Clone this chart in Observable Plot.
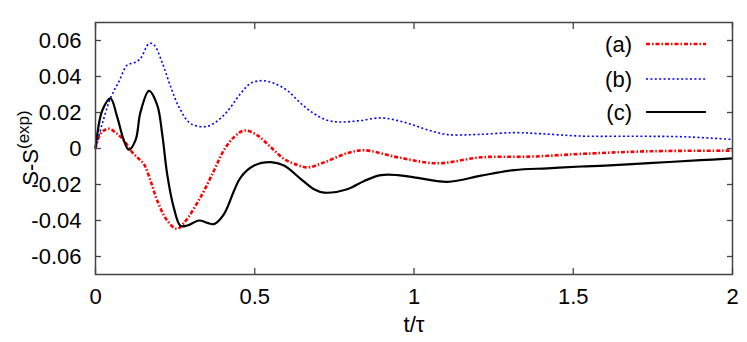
<!DOCTYPE html>
<html><head><meta charset="utf-8">
<script src="https://cdn.jsdelivr.net/npm/d3@7"></script>
<script src="https://cdn.jsdelivr.net/npm/@observablehq/plot@0.6"></script>
<style>body{margin:0;background:#fff}#wrap{width:747px;height:342px}</style>
</head><body><div id="wrap"></div>
<script>
const tA = [0,0.012,0.025,0.042,0.068,0.089,0.115,0.136,0.152,0.173,0.194,0.225,0.255,0.278,0.33,0.372,0.403,0.435,0.467,0.508,0.55,0.592,0.634,0.666,0.718,0.79,0.844,0.949,1.074,1.21,1.368,1.525,1.75,2.0];
const vA = [0,0.007,0.0098,0.011,0.0082,0.0045,-0.002,-0.0058,-0.0086,-0.018,-0.029,-0.040,-0.0446,-0.0413,-0.027,-0.0123,-0.001,0.0063,0.010,0.0073,0.0008,-0.0058,-0.0092,-0.0105,-0.0077,-0.0026,-0.001,-0.0049,-0.0082,-0.0049,-0.0045,-0.003,-0.0015,-0.0012];
const tB = [0,0.02,0.047,0.073,0.1,0.12,0.141,0.168,0.183,0.21,0.236,0.265,0.299,0.351,0.403,0.456,0.487,0.524,0.561,0.603,0.645,0.686,0.728,0.77,0.83,0.896,0.95,1.0,1.05,1.106,1.2,1.315,1.4,1.525,1.7,1.85,2.0];
const vB = [0,0.013,0.028,0.037,0.0465,0.0475,0.050,0.0583,0.0577,0.0475,0.0343,0.022,0.0138,0.0123,0.0185,0.0306,0.0362,0.0377,0.0362,0.0321,0.025,0.0194,0.0157,0.0147,0.0155,0.017,0.0155,0.0129,0.010,0.0077,0.0078,0.0088,0.0082,0.0069,0.0068,0.0065,0.005];
const tC = [0,0.005,0.021,0.047,0.068,0.089,0.105,0.126,0.141,0.168,0.194,0.21,0.225,0.246,0.267,0.288,0.325,0.351,0.372,0.403,0.435,0.456,0.498,0.55,0.592,0.645,0.686,0.718,0.79,0.844,0.896,0.949,1.0,1.106,1.21,1.315,1.42,1.525,1.6,1.75,1.9,2.0];
const vC = [0,0.0073,0.021,0.0278,0.0176,0.0045,-0.0007,0.0048,0.020,0.032,0.024,0.0073,-0.0142,-0.033,-0.043,-0.0428,-0.040,-0.0413,-0.042,-0.0366,-0.0235,-0.016,-0.0095,-0.0076,-0.0095,-0.017,-0.0226,-0.0245,-0.0226,-0.018,-0.0148,-0.0148,-0.016,-0.0185,-0.0151,-0.012,-0.011,-0.010,-0.0095,-0.008,-0.0065,-0.0055];
const xTicks = [0,0.5,1,1.5,2];
const yTicks = [-0.06,-0.04,-0.02,0,0.02,0.04,0.06];
const yTickLabels = ["-0.06","-0.04","-0.02","0","0.02","0.04","0.06"];
const seriesNames = ["(a)","(b)","(c)"];

const styles = [
  {stroke:"#ff0000", strokeWidth:2.6, strokeDasharray:"4,2,1.5,2"},
  {stroke:"#0000ff", strokeWidth:1.6, strokeDasharray:"2,2.4"},
  {stroke:"#000000", strokeWidth:2.2, strokeDasharray:null}
];
const series = [[tA,vA],[tB,vB],[tC,vC]].map(([t,v]) => t.map((x,i)=>({t:x, v:v[i]})));
const FONT = "'Liberation Sans', Arial, sans-serif";

const chart = Plot.plot({
  width:747, height:342,
  marginLeft:95, marginRight:15, marginTop:22, marginBottom:68,
  style:{fontFamily:FONT, fontSize:"22px", background:"#fff", color:"#000"},
  x:{domain:[0,2]},
  y:{domain:[-0.07,0.07]},
  marks:[
    ...series.map((d,i)=>Plot.line(d,{x:"t",y:"v",curve:"catmull-rom",...styles[i], strokeLinecap:"butt"})),
    Plot.frame({stroke:"#444", strokeWidth:1.5}),
    Plot.axisX(xTicks,{anchor:"bottom", tickSize:-6, text:null, stroke:"#444", strokeWidth:1.3, label:null}),
    Plot.axisX(xTicks,{anchor:"top", tickSize:-6, text:null, stroke:"#444", strokeWidth:1.3, label:null}),
    Plot.axisY(yTicks,{anchor:"left", tickSize:-6, text:null, stroke:"#444", strokeWidth:1.3, label:null}),
    Plot.axisY(yTicks,{anchor:"right", tickSize:-6, text:null, stroke:"#444", strokeWidth:1.3, label:null}),
    Plot.axisX(xTicks,{anchor:"bottom", tickSize:0, tickPadding:14, tickFormat:d=>String(d), label:"t/τ", labelAnchor:"center", labelArrow:false, labelOffset:57}),
    Plot.axisY(yTicks,{anchor:"left", tickSize:0, tickPadding:14, tickFormat:(d,i)=>yTickLabels[i], label:null})
  ]
});
document.getElementById("wrap").appendChild(chart);

const svg = d3.select(chart);
// y-axis label with superscript
const yl = svg.append("text").attr("transform","translate(38,148) rotate(-90)")
  .attr("text-anchor","middle").attr("font-family",FONT).attr("font-size",22).attr("fill","#000");
yl.append("tspan").text("S-S");
yl.append("tspan").attr("dy",-9).attr("font-size",17).text("(exp)");

// legend
const legY = [44,79,112];
seriesNames.forEach((name,i)=>{
  svg.append("text").attr("x",632).attr("y",legY[i]).attr("dy","0.35em").attr("text-anchor","end")
    .attr("font-family",FONT).attr("font-size",22).attr("fill","#000").text(name);
  const ln = svg.append("line").attr("x1",646).attr("x2",706).attr("y1",legY[i]).attr("y2",legY[i])
    .attr("stroke",styles[i].stroke).attr("stroke-width",styles[i].strokeWidth);
  if (styles[i].strokeDasharray) ln.attr("stroke-dasharray",styles[i].strokeDasharray);
});
</script></body></html>
